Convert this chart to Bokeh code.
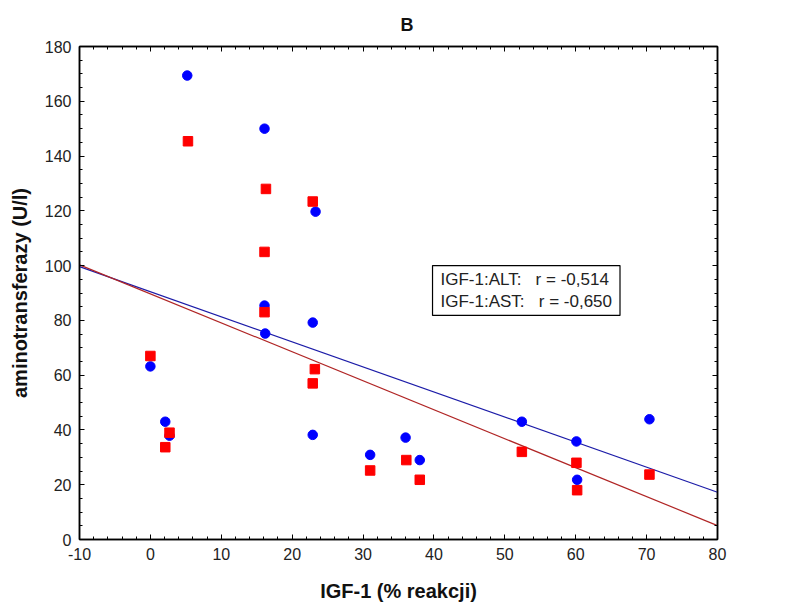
import numpy as np
from bokeh.plotting import figure
from bokeh.core.properties import value
from bokeh.models import (Range1d, LinearAxis, SingleIntervalTicker, Label, Legend,
                          LegendItem, CustomJSTickFormatter)
from bokeh.embed import file_html
from bokeh.resources import INLINE

try:
    from bokeh.models import HTMLLabel
except Exception:
    HTMLLabel = None

# ---- data ----
alt_x = [5.2, 16.1, 23.3, 16.1, 16.2, 22.9, 0.0, 2.1, 2.7, 22.9, 31.0, 36.0, 38.0, 52.4, 60.1, 60.2, 70.4]
alt_y = [169.4, 150.0, 119.7, 85.4, 75.2, 79.2, 63.2, 43.0, 37.9, 38.2, 30.9, 37.2, 29.0, 43.0, 35.8, 21.8, 43.9]
ast_x = [5.3, 16.3, 16.1, 22.9, 16.1, 0.0, 2.1, 2.7, 22.9, 23.2, 31.0, 36.1, 38.0, 52.4, 60.1, 60.2, 70.4]
ast_y = [145.4, 128.0, 105.0, 123.4, 83.0, 67.0, 33.7, 39.0, 57.0, 62.2, 25.2, 29.0, 21.8, 32.0, 28.0, 18.0, 23.7]
x_range_vals = [-10, 80]
y_range_vals = [0, 180]
title_text = "B"
x_label = "IGF-1 (% reakcji)"
y_label = "aminotransferazy (U/l)"
r_labels = ["IGF-1:ALT:\u00a0\u00a0\u00a0r = -0,514", "IGF-1:AST:\u00a0\u00a0\u00a0r = -0,650"]
series_names = ["ALT", "AST"]

FONT = "Liberation Sans"
ALT_C, AST_C = "#0000ff", "#ff0000"
ALT_L, AST_L = "#1c1ca8", "#b02525"

p = figure(frame_width=638, frame_height=493,
           output_backend="svg", toolbar_location=None,
           x_range=Range1d(*x_range_vals), y_range=Range1d(*y_range_vals),
           x_axis_type=None, y_axis_type=None,
           min_border_left=79, min_border_right=82, min_border_top=46, min_border_bottom=63)
p.background_fill_color = "white"
p.border_fill_color = "white"
p.outline_line_color = "black"
p.outline_line_width = 1.5

p.title.text = title_text
p.title.align = "left"
p.title.offset = 321
p.title.standoff = 24
p.title.text_font = FONT
p.title.text_font_size = "18px"
p.title.text_font_style = "bold"
p.title.text_color = "#111111"

xt = SingleIntervalTicker(interval=10, num_minor_ticks=5)
yt = SingleIntervalTicker(interval=20, num_minor_ticks=4)
plain = CustomJSTickFormatter(code="return tick.toString()")

def style_axis(ax, labels=True):
    ax.axis_line_color = "black"
    ax.axis_line_width = 1.5
    ax.major_tick_in = 5
    ax.major_tick_out = 0
    ax.minor_tick_in = 3
    ax.minor_tick_out = 0
    ax.major_tick_line_color = "black"
    ax.minor_tick_line_color = "black"
    ax.major_label_text_font = FONT
    ax.major_label_text_font_size = "16px"
    ax.major_label_text_color = "#222222"
    ax.major_label_standoff = 8
    ax.axis_label_text_font = FONT
    ax.axis_label_text_font_size = "20px"
    ax.axis_label_text_font_style = "bold"
    ax.axis_label_text_color = "#111111"
    if labels:
        ax.formatter = plain
    else:
        ax.formatter = CustomJSTickFormatter(code="return ''")
        ax.major_label_standoff = 0

bottom = LinearAxis(ticker=xt, axis_label=x_label)
style_axis(bottom)
bottom.axis_label_standoff = 17
left = LinearAxis(ticker=yt, axis_label=y_label)
style_axis(left)
left.axis_label_standoff = 11
top = LinearAxis(ticker=xt)
style_axis(top, labels=False)
right = LinearAxis(ticker=yt)
style_axis(right, labels=False)
p.add_layout(bottom, "below")
p.add_layout(left, "left")
p.add_layout(top, "above")
p.add_layout(right, "right")

p.xgrid.ticker = xt
p.ygrid.ticker = yt
p.grid.grid_line_color = "#d6d6d6"
p.grid.grid_line_width = 1

# regression lines computed from the data
xs = np.array(x_range_vals, dtype=float)
a1, b1 = np.polyfit(alt_x, alt_y, 1)
a2, b2 = np.polyfit(ast_x, ast_y, 1)
l_alt = p.line(xs, a1 * xs + b1, line_color=ALT_L, line_width=1.2)
l_ast = p.line(xs, a2 * xs + b2, line_color=AST_L, line_width=1.2)

s_alt = p.scatter(alt_x, alt_y, marker="circle", size=9.5, fill_color=ALT_C, line_color=ALT_C)
s_ast = p.scatter(ast_x, ast_y, marker="square", size=9.5, fill_color=AST_C, line_color=AST_C)

lab = Label(x=39.8, y=100, x_units="data", y_units="data", anchor="top_left",
            text="\n".join(r_labels), text_font=FONT, text_font_size="17px",
            text_color="#222222", text_line_height=1.2,
            border_line_color="black", border_line_width=1.2,
            background_fill_color="white", padding=(8, 4))
p.add_layout(lab)

# legend outside the frame, below its right corner (HTML annotations are not clipped)
if HTMLLabel is not None:
    leg_rows = [(series_names[0], ALT_L, ALT_C, "\u25cf", -10.6),
                (series_names[1], AST_L, AST_C, "\u25a0", -20.8)]
    for name, lcol, mcol, mchar, yrow in leg_rows:
        p.add_layout(HTMLLabel(x=84.66, y=yrow, x_units="data", y_units="data",
                               text="\u2500\u2500\u2500", angle=-0.6,
                               text_align="center", text_baseline="middle",
                               text_font="DejaVu Sans", text_font_size="11px", text_color=lcol))
        p.add_layout(HTMLLabel(x=84.66, y=yrow, x_units="data", y_units="data",
                               text=mchar, text_align="center", text_baseline="middle",
                               text_font="DejaVu Sans", text_font_size="15px", text_color=mcol))
        p.add_layout(HTMLLabel(x=87.05, y=yrow, x_units="data", y_units="data",
                               text=name, text_align="left", text_baseline="middle",
                               text_font=FONT, text_font_size="16px", text_color="#222222"))
else:
    legend = Legend(items=[LegendItem(label=series_names[0], renderers=[l_alt, s_alt]),
                           LegendItem(label=series_names[1], renderers=[l_ast, s_ast])],
                    location="top_right", orientation="vertical",
                    border_line_color=None, background_fill_alpha=0,
                    label_text_font=FONT, label_text_font_size="16px", label_text_color="#222222",
                    glyph_width=28, glyph_height=20, spacing=8, padding=0, margin=10,
                    label_standoff=4)
    p.add_layout(legend, "center")

open("out.html", "w").write(file_html(p, INLINE))
